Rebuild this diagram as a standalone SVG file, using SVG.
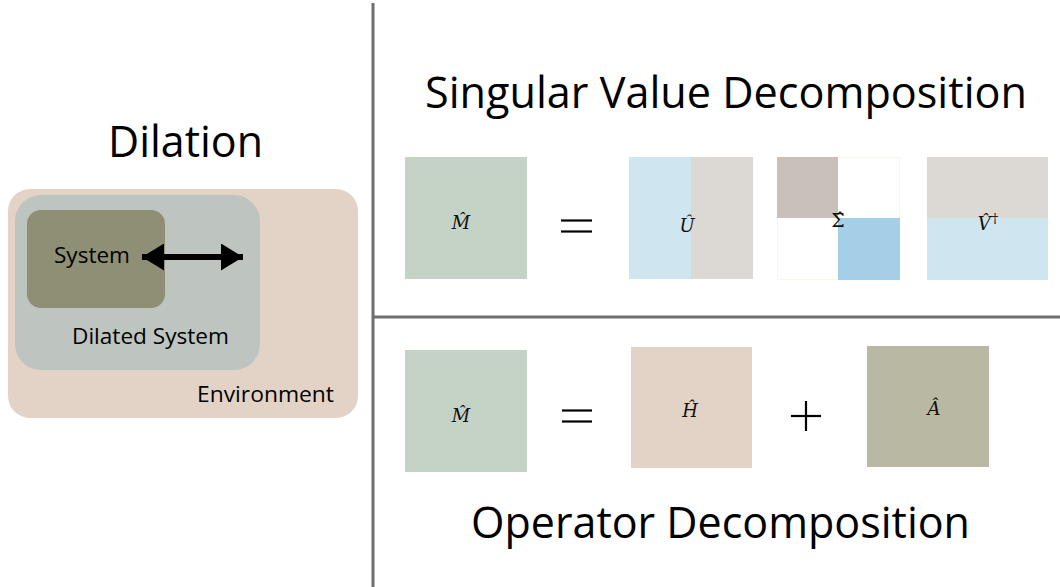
<svg xmlns="http://www.w3.org/2000/svg" width="1060" height="587" viewBox="0 0 1060 587">
<defs>
<style>
.t{font-family:"Open Sans","Liberation Sans",sans-serif;fill:#000}
.m{font-family:"DejaVu Serif","Liberation Serif",serif;font-style:italic;font-size:18px;fill:#111;text-anchor:middle}
.u{font-style:normal}
.div{stroke:#6e6e6e;stroke-width:3;fill:none}
.op{stroke:#000;stroke-width:2.2;fill:none}
</style>
<marker id="ah" viewBox="0 0 22 27" refX="22" refY="13.5" markerWidth="22" markerHeight="27" orient="auto-start-reverse" markerUnits="userSpaceOnUse">
<path d="M0,0 L22,13.5 L0,27 z" fill="#000"/>
</marker>
</defs>
<rect width="1060" height="587" fill="#fff"/>

<g id="dividers">
<line class="div" x1="373" y1="3" x2="373" y2="587"/>
<line class="div" x1="373" y1="317" x2="1060" y2="317"/>
</g>

<g id="titles">
<text class="t" x="108" y="157" font-size="44" textLength="155" lengthAdjust="spacingAndGlyphs">Dilation</text>
<text class="t" x="425" y="108" font-size="44" textLength="602" lengthAdjust="spacingAndGlyphs">Singular Value Decomposition</text>
<text class="t" x="471" y="538" font-size="44" textLength="499" lengthAdjust="spacingAndGlyphs">Operator Decomposition</text>
</g>

<g id="environment">
<rect x="8" y="189" width="350" height="229" rx="22" fill="#e3d3c6"/>
<text class="t" x="197" y="402" font-size="21" textLength="137" lengthAdjust="spacingAndGlyphs">Environment</text>
</g>
<g id="dilated-system">
<rect x="15" y="195" width="245" height="175" rx="26" fill="#bec4bf"/>
<text class="t" x="72" y="344" font-size="21" textLength="157" lengthAdjust="spacingAndGlyphs">Dilated System</text>
</g>
<g id="system">
<rect x="27" y="210" width="138" height="98" rx="14" fill="#8f8f75"/>
<text class="t" x="54" y="263" font-size="21" textLength="76" lengthAdjust="spacingAndGlyphs">System</text>
</g>

<g id="connectors">
<line x1="142" y1="257" x2="243" y2="257" stroke="#000" stroke-width="6" marker-start="url(#ah)" marker-end="url(#ah)"/>
</g>

<g id="svd-M">
<rect x="405" y="157" width="122" height="122" fill="#c5d3c6"/>
<text class="m" x="461" y="229">M̂</text>
</g>
<g id="svd-eq">
<line class="op" x1="561" y1="220.5" x2="592" y2="220.5"/>
<line class="op" x1="561" y1="231.5" x2="592" y2="231.5"/>
</g>
<g id="svd-U">
<rect x="629" y="157" width="62" height="122" fill="#cfe5f0"/>
<rect x="691" y="157" width="62" height="122" fill="#dcd8d4"/>
<text class="m" x="687" y="232">Û</text>
</g>
<g id="svd-Sigma">
<rect x="777.5" y="157.5" width="122" height="122" fill="#fff" stroke="#f6f9e4" stroke-width="1"/>
<rect x="777" y="157" width="61" height="61" fill="#c9c0ba"/>
<rect x="838" y="218" width="62" height="62" fill="#a5cfe6"/>
<text class="m u" x="838" y="227" style="font-size:19px">Σ̂</text>
</g>
<g id="svd-V">
<rect x="927" y="157" width="121" height="61" fill="#dcd8d4"/>
<rect x="927" y="218" width="121" height="62" fill="#cfe5f0"/>
<text class="m" x="988" y="230">V̂<tspan class="u" font-size="13" dx="1" dy="-7">†</tspan></text>
</g>

<g id="op-M">
<rect x="405" y="350" width="122" height="122" fill="#c5d3c6"/>
<text class="m" x="461" y="422">M̂</text>
</g>
<g id="op-eq">
<line class="op" x1="562" y1="410.5" x2="592" y2="410.5"/>
<line class="op" x1="562" y1="421.5" x2="592" y2="421.5"/>
</g>
<g id="op-H">
<rect x="631" y="347" width="121" height="121" fill="#e3d3c6"/>
<text class="m" x="690" y="417">Ĥ</text>
</g>
<g id="op-plus">
<line class="op" x1="791" y1="416" x2="821" y2="416"/>
<line class="op" x1="806" y1="401" x2="806" y2="431"/>
</g>
<g id="op-A">
<rect x="867" y="346" width="122" height="121" fill="#b9b9a3"/>
<text class="m" x="934" y="415">Â</text>
</g>
</svg>
